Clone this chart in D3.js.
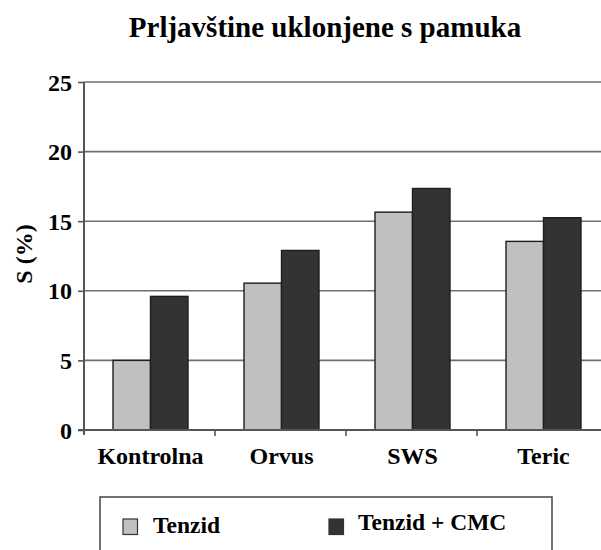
<!DOCTYPE html>
<html>
<head>
<meta charset="utf-8">
<script src="https://cdn.jsdelivr.net/npm/d3@7"></script>
<style>
  html, body { margin: 0; padding: 0; background: #fff; }
  svg { display: block; }
  text { font-family: "Liberation Serif", "Times New Roman", serif; font-weight: bold; fill: #000; }
</style>
</head>
<body>
<svg id="chart" width="601" height="550"></svg>
<script>
const title = "Prljavštine uklonjene s pamuka";
const yLabel = "S (%)";
const categories = ["Kontrolna", "Orvus", "SWS", "Teric"];
const seriesNames = ["Tenzid", "Tenzid + CMC"];
const tenzid = [5.0, 10.55, 15.65, 13.55];
const tenzidCmc = [9.6, 12.9, 17.35, 15.25];
const yTicks = [0, 5, 10, 15, 20, 25];
const colors = ["#c0c0c0", "#333333"];

const svg = d3.select("#chart");
const x = d3.scaleBand().domain(categories).range([85, 609]).paddingInner(0).paddingOuter(0);
const xs = d3.scaleBand().domain(seriesNames).range([0, x.bandwidth()]).paddingInner(0).paddingOuter(0.747);
const y = d3.scaleLinear().domain([0, 25]).range([430, 82]);

// gridlines
svg.append("g").selectAll("line").data(yTicks.filter(d => d > 0)).join("line")
  .attr("x1", 84).attr("x2", 609)
  .attr("y1", d => y(d)).attr("y2", d => y(d))
  .attr("stroke", "#6e6e6e").attr("stroke-width", 1.6);

// bars
const table = categories.map((c, i) => ({ c, vals: [tenzid[i], tenzidCmc[i]] }));
const groups = svg.append("g").selectAll("g").data(table).join("g")
  .attr("transform", d => `translate(${x(d.c)},0)`);
groups.selectAll("rect").data(d => d.vals.map((v, j) => ({ s: seriesNames[j], v, j }))).join("rect")
  .attr("x", d => xs(d.s)).attr("width", xs.bandwidth())
  .attr("y", d => y(d.v)).attr("height", d => y(0) - y(d.v))
  .attr("fill", d => colors[d.j]).attr("stroke", "#1e1e1e").attr("stroke-width", 1.4);

// y axis
const yAxis = svg.append("g").attr("transform", "translate(84,0)")
  .call(d3.axisLeft(y).tickValues(yTicks).tickSize(6).tickPadding(6));
yAxis.select(".domain").attr("stroke", "#555").attr("stroke-width", 2).attr("d", `M0,${y(25)}V${y(0) + 5}`);
yAxis.selectAll(".tick line").attr("stroke", "#555").attr("stroke-width", 1.6);
yAxis.selectAll(".tick text").style("font-size", "24px").style("font-family", "Liberation Serif").style("font-weight", "bold").attr("fill", "#000").attr("dy", "0.34em");

// x axis
const xAxis = svg.append("g").attr("transform", `translate(0,${y(0)})`)
  .call(d3.axisBottom(x).tickSize(0).tickPadding(0));
xAxis.select(".domain").attr("stroke", "#555").attr("stroke-width", 2).attr("d", `M78,0H609`);
xAxis.selectAll(".tick text").style("font-size", "24px").style("font-family", "Liberation Serif").style("font-weight", "bold").attr("fill", "#000").attr("y", 34).attr("dy", 0);
// category boundary ticks
xAxis.append("g").selectAll("line").data(categories.slice(1)).join("line")
  .attr("x1", d => x(d) - 1).attr("x2", d => x(d) - 1).attr("y1", 0).attr("y2", 6)
  .attr("stroke", "#555").attr("stroke-width", 1.6);

// title
svg.append("text").attr("x", 325).attr("y", 37).attr("text-anchor", "middle")
  .style("font-size", "29px").text(title);

// y label
svg.append("text").attr("transform", "translate(32,254) rotate(-90)").attr("text-anchor", "middle")
  .style("font-size", "24px").text(yLabel);

// legend
const lg = svg.append("g");
lg.append("rect").attr("x", 100).attr("y", 497).attr("width", 452).attr("height", 70)
  .attr("fill", "none").attr("stroke", "#444").attr("stroke-width", 1.5);
const legendX = [123, 329];
const legendTextX = [153, 358];
const legendBase = [533, 530];
seriesNames.forEach((s, i) => {
  lg.append("rect").attr("x", legendX[i]).attr("y", 519).attr("width", 14.5).attr("height", 15.5)
    .attr("fill", colors[i]).attr("stroke", "#333").attr("stroke-width", 1.2);
  lg.append("text").attr("x", legendTextX[i]).attr("y", legendBase[i])
    .style("font-size", "23.5px").text(s);
});
</script>
</body>
</html>
